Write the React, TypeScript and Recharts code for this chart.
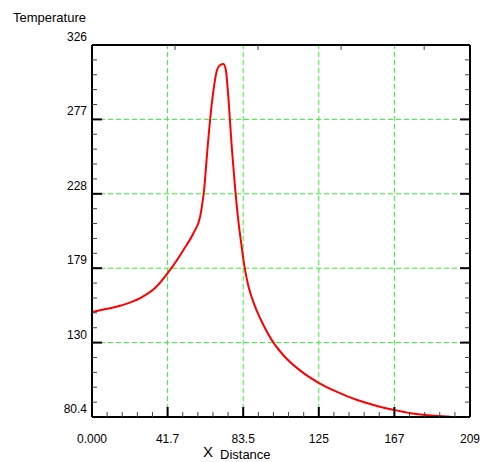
import React from 'react';
import { LineChart, Line, XAxis, YAxis, ReferenceLine } from 'recharts';

// values
const distance = [
  0, 5, 16, 27.1, 34.8, 43.1, 50.5, 56, 59.7, 61.2, 61.9, 63.4, 65.2, 67.1, 69, 70.8,
  72.6, 73.9, 75.4, 77.2, 78.3, 79.2, 80.7, 82.5, 84, 86.3, 90, 94.5, 99.1, 105.8, 115,
  125.1, 135.3, 146.4, 157.4, 167, 175.8, 185.1, 197.9,
];
const temperature = [
  149.7, 151, 154, 159.2, 165.5, 177.5, 190.7, 201.7, 212.6, 223.7, 230.3, 252.3, 276.5,
  296.3, 309.5, 312.8, 313.5, 309.5, 289.7, 258, 242, 229, 211, 194, 181, 167, 153.5,
  141.5, 131.5, 121, 111, 103, 97, 91.6, 87.7, 85, 82.9, 81.5, 80.6,
];

const xTickLabels = ['0.000', '41.7', '83.5', '125', '167', '209'];
const yTickLabels = ['80.4', '130', '179', '228', '277', '326'];

const X_MAX = 208.7;
const Y_MIN = 80.4;
const Y_MAX = 326;
const MINOR = 5;

const data = distance.map((d, i) => ({ x: d, t: temperature[i] }));

const xTicks = Array.from({ length: 5 * MINOR + 1 }, (_, i) => (X_MAX * i) / (5 * MINOR));
const yTicks = Array.from(
  { length: 5 * MINOR + 1 },
  (_, i) => Y_MIN + ((Y_MAX - Y_MIN) * i) / (5 * MINOR)
);
const xGrid = xTicks.filter((_, i) => i % MINOR === 0 && i > 0 && i < 5 * MINOR);
const yGrid = yTicks.filter((_, i) => i % MINOR === 0 && i > 0 && i < 5 * MINOR);

const FONT = '"Liberation Sans", Arial, sans-serif';

const makeTick = (side: 'bottom' | 'top' | 'left' | 'right') => (props: any) => {
  const { x, y, index } = props;
  const major = index % MINOR === 0;
  const len = major ? 10 : 5;
  const stroke = major ? '#000' : '#444';
  const sw = major ? 2 : 1;
  let line;
  if (side === 'bottom') line = <line x1={x} y1={y} x2={x} y2={y - len} stroke={stroke} strokeWidth={sw} />;
  else if (side === 'top') line = <line x1={x} y1={y} x2={x} y2={y + len} stroke={stroke} strokeWidth={sw} />;
  else if (side === 'left') line = <line x1={x} y1={y} x2={x + len} y2={y} stroke={stroke} strokeWidth={sw} />;
  else line = <line x1={x} y1={y} x2={x - len} y2={y} stroke={stroke} strokeWidth={sw} />;
  let label = null;
  if (major && side === 'bottom') {
    label = (
      <text x={x} y={y + 26} textAnchor="middle" fontSize={12} fontFamily={FONT} fill="#000">
        {xTickLabels[index / MINOR]}
      </text>
    );
  }
  if (major && side === 'left') {
    label = (
      <text x={x - 5} y={y - 4} textAnchor="end" fontSize={12} fontFamily={FONT} fill="#000">
        {yTickLabels[index / MINOR]}
      </text>
    );
  }
  return (
    <g>
      {line}
      {label}
    </g>
  );
};

export default function App() {
  return (
    <div style={{ position: 'absolute', left: 0, top: 0, width: 481, height: 462, background: '#fff' }}>
      <LineChart width={481} height={462} data={data} margin={{ top: 0, right: 0, bottom: 0, left: 0 }}>
        <XAxis
          dataKey="x"
          type="number"
          domain={[0, X_MAX]}
          ticks={xTicks}
          interval={0}
          height={45}
          tickSize={0}
          tickMargin={0}
          tickLine={false}
          tick={makeTick('bottom')}
          axisLine={{ stroke: '#000', strokeWidth: 2 }}
          allowDataOverflow
        />
        <XAxis
          xAxisId="top"
          orientation="top"
          type="number"
          domain={[0, X_MAX]}
          ticks={xTicks}
          interval={0}
          height={45}
          tickSize={0}
          tickMargin={0}
          tickLine={false}
          tick={makeTick('top')}
          axisLine={{ stroke: '#000', strokeWidth: 2 }}
          allowDataOverflow
        />
        <YAxis
          type="number"
          domain={[Y_MIN, Y_MAX]}
          ticks={yTicks}
          interval={0}
          width={92}
          tickSize={0}
          tickMargin={0}
          tickLine={false}
          tick={makeTick('left')}
          axisLine={{ stroke: '#000', strokeWidth: 2 }}
          allowDataOverflow
        />
        <YAxis
          yAxisId="right"
          orientation="right"
          type="number"
          domain={[Y_MIN, Y_MAX]}
          ticks={yTicks}
          interval={0}
          width={11}
          tickSize={0}
          tickMargin={0}
          tickLine={false}
          tick={makeTick('right')}
          axisLine={{ stroke: '#000', strokeWidth: 2 }}
          allowDataOverflow
        />
        {xGrid.map((v) => (
          <ReferenceLine key={'gx' + v} x={v} stroke="#33ee33" strokeDasharray="5 3" strokeWidth={1} />
        ))}
        {yGrid.map((v) => (
          <ReferenceLine key={'gy' + v} y={v} stroke="#33ee33" strokeDasharray="5 3" strokeWidth={1} />
        ))}
        <Line
          type="monotone"
          dataKey="t"
          stroke="#ff0000"
          strokeWidth={2}
          dot={false}
          isAnimationActive={false}
        />
      </LineChart>
      <svg width={481} height={462} style={{ position: 'absolute', left: 0, top: 0, pointerEvents: 'none' }}>
        <text x={13} y={22} fontSize={13} fontFamily={FONT} fill="#000">
          Temperature
        </text>
        <text x={203} y={457} fontSize={15} fontFamily={FONT} fill="#000">
          X
        </text>
        <text x={220} y={459} fontSize={13} fontFamily={FONT} fill="#000">
          Distance
        </text>
      </svg>
    </div>
  );
}
